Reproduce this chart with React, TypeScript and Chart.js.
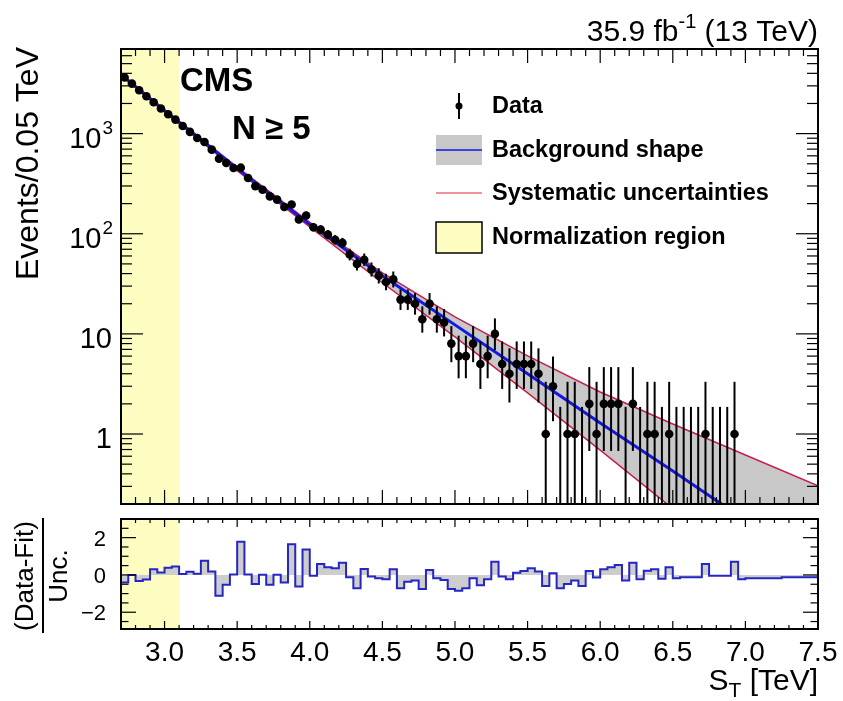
import React, { useEffect, useRef } from 'react';
import { Chart, registerables } from 'chart.js';

Chart.register(...registerables);

const FONT_FAMILY = '"Liberation Sans", Arial, Helvetica, sans-serif';
const font = (size: number, bold = false) => `${bold ? 'bold ' : ''}${size}px ${FONT_FAMILY}`;

// ---------- axis ranges ----------
const X_MIN = 2.7;
const X_MAX = 7.5;
const BIN_WIDTH = 0.05;
const Y_MIN = 0.2;
const Y_MAX = 7000;
const PULL_MIN = -2.9;
const PULL_MAX = 3;
const NORM_LOW = 2.7;
const NORM_HIGH = 3.1;

// ---------- data (events per 0.05 TeV bin, starting at 2.70 TeV) ----------
const dataCounts = [
  3630, 3160, 2710, 2360, 2060, 1780, 1560, 1380, 1190, 1040,
  904, 824, 692, 562, 508, 453, 457, 360, 299, 275,
  236, 219, 185, 196, 139, 152, 116, 110, 98, 87,
  81, 62, 50, 55, 44, 38, 33, 35, 22, 22,
  20, 14, 20, 14, 13, 8, 6, 6, 8, 5,
  6, 10, 5, 4, 5, 5, 5, 4, 1, 3,
  0, 1, 1, 0, 2, 1, 2, 2, 2, 0,
  2, 0, 1, 1, 0, 1, 0, 0, 0, 0,
  1, 0, 0, 0, 1,
];

// ---------- background fit shape and systematic envelope ----------
const fitX = [2.7, 3.0, 3.5, 4.0, 4.5, 5.0, 5.5, 6.0, 6.5, 7.0, 7.5];
const fitCentral = [3890, 1700, 447, 124, 38, 12.3, 4.0, 1.29, 0.427, 0.138, 0.045];
const fitUp = [3980, 1740, 462, 130, 40.7, 14.8, 6.03, 2.63, 1.26, 0.617, 0.304];
const fitDown = [3800, 1640, 427, 117, 32.4, 9.33, 2.57, 0.69, 0.18, 0.048, 0.0126];

// ---------- (Data-Fit)/Unc. per bin (96 bins, 2.70 - 7.50 TeV) ----------
const pulls = [
  -0.40, 0.00, -0.32, -0.24, 0.30, 0.13, 0.38, 0.45, 0.05, 0.17,
  0.06, 0.76, 0.18, -1.12, -0.53, 0.02, 1.78, 0.02, -0.48, 0.01,
  -0.53, 0.01, -0.41, 1.65, -0.62, 1.37, -0.05, 0.59, 0.41, 0.36,
  0.66, -0.12, -0.71, 0.32, -0.09, -0.18, -0.23, 0.30, -0.71, -0.36,
  -0.30, -0.76, 0.27, -0.18, -0.27, -0.76, -0.85, -0.71, -0.18, -0.56,
  -0.23, 0.71, -0.09, -0.23, 0.12, 0.21, 0.36, 0.18, -0.59, 0.09,
  -0.71, -0.48, -0.30, -0.59, 0.21, -0.14, 0.30, 0.41, 0.53, -0.30,
  0.66, -0.23, 0.23, 0.30, -0.21, 0.41, -0.18, -0.12, -0.12, -0.12,
  0.59, -0.05, -0.05, -0.05, 0.71, -0.23, -0.18, -0.18, -0.18, -0.18,
  -0.18, -0.12, -0.12, -0.12, -0.12, -0.12,
];

// ---------- tick labels ----------
const xTickValues = [3.0, 3.5, 4.0, 4.5, 5.0, 5.5, 6.0, 6.5, 7.0, 7.5];
const xTickLabels = ['3.0', '3.5', '4.0', '4.5', '5.0', '5.5', '6.0', '6.5', '7.0', '7.5'];
const yMainTickValues = [1, 10, 100, 1000];
const yMainTickBase = ['1', '10', '10', '10'];
const yMainTickExp = ['', '', '2', '3'];
const pullTickValues = [2, 0, -2];
const pullTickLabels = ['2', '0', '\u22122'];

const legendLabels = ['Data', 'Background shape', 'Systematic uncertainties', 'Normalization region'];

const COLORS = {
  yellow: '#fdfdc2',
  band: '#c8c8c8',
  fit: '#1218e6',
  syst: '#c8204a',
  systLegend: '#ec6f7c',
  pull: '#2626c2',
  pullFill: '#cdcdcd',
};

function line(ctx: CanvasRenderingContext2D, x1: number, y1: number, x2: number, y2: number) {
  ctx.beginPath();
  ctx.moveTo(x1, y1);
  ctx.lineTo(x2, y2);
  ctx.stroke();
}

function drawXTicks(chart: any, majorLen: number, minorLen: number) {
  const { ctx, chartArea: a, scales } = chart;
  const x = scales.x;
  ctx.save();
  ctx.strokeStyle = '#000';
  ctx.lineWidth = 1.2;
  for (let t = Math.round(X_MIN * 10); t <= Math.round(X_MAX * 10); t++) {
    const v = t / 10;
    const px = x.getPixelForValue(v);
    const len = t % 5 === 0 ? majorLen : minorLen;
    line(ctx, px, a.bottom, px, a.bottom - len);
    line(ctx, px, a.top, px, a.top + len);
  }
  ctx.restore();
}

function drawYTicks(chart: any, ticks: { v: number; major: boolean }[], majorLen: number, minorLen: number) {
  const { ctx, chartArea: a, scales } = chart;
  const y = scales.y;
  ctx.save();
  ctx.strokeStyle = '#000';
  ctx.lineWidth = 1.2;
  ticks.forEach(({ v, major }) => {
    const py = y.getPixelForValue(v);
    if (py < a.top - 0.5 || py > a.bottom + 0.5) return;
    const len = major ? majorLen : minorLen;
    line(ctx, a.left, py, a.left + len, py);
    line(ctx, a.right, py, a.right - len, py);
  });
  ctx.restore();
}

function drawFrame(chart: any) {
  const { ctx, chartArea: a } = chart;
  ctx.save();
  ctx.strokeStyle = '#000';
  ctx.lineWidth = 2;
  ctx.strokeRect(a.left, a.top, a.right - a.left, a.bottom - a.top);
  ctx.restore();
}

function drawNormRegion(chart: any) {
  const { ctx, chartArea: a, scales } = chart;
  const x1 = scales.x.getPixelForValue(NORM_LOW);
  const x2 = scales.x.getPixelForValue(NORM_HIGH);
  ctx.save();
  ctx.fillStyle = COLORS.yellow;
  ctx.fillRect(x1, a.top, x2 - x1, a.bottom - a.top);
  ctx.restore();
}

const mainPlugin = {
  id: 'mainDecor',
  beforeDraw(chart: any) {
    drawNormRegion(chart);
  },
  afterDatasetsDraw(chart: any) {
    const { ctx, chartArea: a, scales } = chart;
    const x = scales.x;
    const y = scales.y;
    ctx.save();
    ctx.beginPath();
    ctx.rect(a.left, a.top, a.right - a.left, a.bottom - a.top);
    ctx.clip();
    ctx.strokeStyle = '#000';
    ctx.lineWidth = 2;
    dataCounts.forEach((n, i) => {
      const px = x.getPixelForValue(X_MIN + (i + 0.5) * BIN_WIDTH);
      const hi = n + 1 + Math.sqrt(n + 0.75);
      const lo = n > 0 ? n - Math.sqrt(n - 0.25) : 0;
      const pyHi = y.getPixelForValue(hi);
      const pyLo = lo > Y_MIN ? y.getPixelForValue(lo) : a.bottom + 4;
      line(ctx, px, pyLo, px, pyHi);
    });
    ctx.restore();
  },
  afterDraw(chart: any) {
    const { ctx, chartArea: a, scales } = chart;
    drawXTicks(chart, 14, 7);
    const yt: { v: number; major: boolean }[] = [];
    for (let e = -1; e <= 4; e++) {
      for (let m = 1; m <= 9; m++) yt.push({ v: m * Math.pow(10, e), major: m === 1 });
    }
    drawYTicks(chart, yt, 22, 11);
    drawFrame(chart);

    ctx.save();
    ctx.fillStyle = '#000';
    ctx.textBaseline = 'alphabetic';
    // y tick labels
    yMainTickValues.forEach((v, i) => {
      const py = scales.y.getPixelForValue(v);
      const size = 29;
      ctx.font = font(size);
      const wb = ctx.measureText(yMainTickBase[i]).width;
      ctx.font = font(19);
      const we = yMainTickExp[i] ? ctx.measureText(yMainTickExp[i]).width : 0;
      const start = 112 - wb - we;
      ctx.textAlign = 'left';
      ctx.font = font(size);
      ctx.fillText(yMainTickBase[i], start, py + 14);
      if (yMainTickExp[i]) {
        ctx.font = font(19);
        ctx.fillText(yMainTickExp[i], start + wb + 1, py);
      }
    });

    // y title
    ctx.save();
    ctx.translate(29, 47);
    ctx.rotate(-Math.PI / 2);
    ctx.font = font(32);
    ctx.textAlign = 'right';
    ctx.textBaseline = 'middle';
    ctx.fillText('Events/0.05 TeV', 0, 0);
    ctx.restore();

    // lumi text
    ctx.textAlign = 'left';
    ctx.font = font(30);
    const t1 = '35.9 fb';
    const t3 = ' (13 TeV)';
    const w1 = ctx.measureText(t1).width;
    const w3 = ctx.measureText(t3).width;
    ctx.font = font(20);
    const t2 = '-1';
    const w2 = ctx.measureText(t2).width;
    const sx = a.right - (w1 + w2 + w3);
    ctx.font = font(30);
    ctx.fillText(t1, sx, 41);
    ctx.font = font(20);
    ctx.fillText(t2, sx + w1, 28);
    ctx.font = font(30);
    ctx.fillText(t3, sx + w1 + w2, 41);

    // CMS + N >= 5
    ctx.font = font(33, true);
    ctx.fillText('CMS', 180, 91);
    ctx.fillText('N \u2265 5', 232, 139);

    // legend
    const lx = 436;
    const lw = 46;
    const tx = 492;
    ctx.font = font(23.5, true);
    ctx.textBaseline = 'middle';
    // Data
    ctx.strokeStyle = '#000';
    ctx.lineWidth = 2;
    line(ctx, 459, 93, 459, 119);
    ctx.beginPath();
    ctx.arc(459, 106, 3.5, 0, Math.PI * 2);
    ctx.fill();
    ctx.fillText(legendLabels[0], tx, 107);
    // Background shape
    ctx.fillStyle = COLORS.band;
    ctx.fillRect(lx, 135, lw, 30);
    ctx.strokeStyle = COLORS.fit;
    ctx.lineWidth = 1.5;
    line(ctx, lx, 150, lx + lw, 150);
    ctx.fillStyle = '#000';
    ctx.fillText(legendLabels[1], tx, 151);
    // Systematic uncertainties
    ctx.strokeStyle = COLORS.systLegend;
    ctx.lineWidth = 1.5;
    line(ctx, lx, 193, lx + lw, 193);
    ctx.fillText(legendLabels[2], tx, 194);
    // Normalization region
    ctx.fillStyle = COLORS.yellow;
    ctx.fillRect(lx, 222, lw, 31);
    ctx.strokeStyle = '#000';
    ctx.lineWidth = 1.5;
    ctx.strokeRect(lx, 222, lw, 31);
    ctx.fillStyle = '#000';
    ctx.fillText(legendLabels[3], tx, 238);
    ctx.restore();
  },
};

const pullPlugin = {
  id: 'pullDecor',
  beforeDraw(chart: any) {
    drawNormRegion(chart);
  },
  afterDraw(chart: any) {
    const { ctx, chartArea: a, scales } = chart;
    drawXTicks(chart, 8, 4);
    const yt: { v: number; major: boolean }[] = [];
    for (let k = -5; k <= 5; k++) yt.push({ v: k * 0.5, major: k % 4 === 0 });
    drawYTicks(chart, yt, 15, 7.5);
    drawFrame(chart);

    ctx.save();
    ctx.fillStyle = '#000';
    // y tick labels
    ctx.font = font(22);
    ctx.textAlign = 'right';
    ctx.textBaseline = 'alphabetic';
    pullTickValues.forEach((v, i) => {
      const py = scales.y.getPixelForValue(v);
      ctx.fillText(pullTickLabels[i], 106, py + 8);
    });
    // x tick labels
    ctx.font = font(28);
    ctx.textAlign = 'center';
    xTickValues.forEach((v, i) => {
      const px = scales.x.getPixelForValue(v);
      ctx.fillText(xTickLabels[i], px, a.bottom + 32);
    });
    // x title S_T [TeV]
    ctx.textAlign = 'left';
    ctx.font = font(30);
    const wS = ctx.measureText('S').width;
    const wRest = ctx.measureText(' [TeV]').width;
    ctx.font = font(21);
    const wT = ctx.measureText('T').width;
    const sx = a.right - (wS + wT + wRest);
    ctx.font = font(30);
    ctx.fillText('S', sx, 178);
    ctx.font = font(21);
    ctx.fillText('T', sx + wS, 185);
    ctx.font = font(30);
    ctx.fillText(' [TeV]', sx + wS + wT, 178);

    // y title as fraction
    const cy = 64;
    ctx.save();
    ctx.translate(26, cy);
    ctx.rotate(-Math.PI / 2);
    ctx.font = font(26);
    ctx.textAlign = 'center';
    ctx.textBaseline = 'middle';
    ctx.fillText('(Data-Fit)', 0, 0);
    ctx.restore();
    ctx.save();
    ctx.translate(60, cy);
    ctx.rotate(-Math.PI / 2);
    ctx.font = font(26);
    ctx.textAlign = 'center';
    ctx.textBaseline = 'middle';
    ctx.fillText('Unc.', 0, 0);
    ctx.restore();
    ctx.strokeStyle = '#000';
    ctx.lineWidth = 2;
    line(ctx, 43, 6, 43, 121);
    ctx.restore();
  },
};

export default function App() {
  const mainRef = useRef<HTMLCanvasElement>(null);
  const pullRef = useRef<HTMLCanvasElement>(null);

  useEffect(() => {
    if (!mainRef.current || !pullRef.current) return;

    const points = dataCounts
      .map((n, i) => (n > 0 ? { x: X_MIN + (i + 0.5) * BIN_WIDTH, y: n } : null))
      .filter((p) => p !== null);

    const mainChart = new Chart(mainRef.current, {
      type: 'line',
      data: {
        datasets: [
          {
            label: 'Data',
            data: points as any,
            showLine: false,
            pointRadius: 4.3,
            pointBackgroundColor: '#000',
            pointBorderColor: '#000',
            pointBorderWidth: 0,
            order: 0,
          },
          {
            label: 'Background shape',
            data: fitX.map((x, i) => ({ x, y: fitCentral[i] })),
            borderColor: COLORS.fit,
            borderWidth: 3,
            pointRadius: 0,
            fill: false,
            order: 1,
          },
          {
            label: 'Systematic up',
            data: fitX.map((x, i) => ({ x, y: fitUp[i] })),
            borderColor: COLORS.syst,
            borderWidth: 1.5,
            pointRadius: 0,
            fill: '+1',
            backgroundColor: COLORS.band,
            order: 2,
          },
          {
            label: 'Systematic down',
            data: fitX.map((x, i) => ({ x, y: fitDown[i] })),
            borderColor: COLORS.syst,
            borderWidth: 1.5,
            pointRadius: 0,
            fill: false,
            order: 3,
          },
        ],
      },
      options: {
        responsive: false,
        animation: false,
        events: [],
        layout: { padding: { left: 121, right: 25, top: 49, bottom: 8 } },
        scales: {
          x: { type: 'linear', min: X_MIN, max: X_MAX, display: false },
          y: { type: 'logarithmic', min: Y_MIN, max: Y_MAX, display: false },
        },
        plugins: {
          legend: { display: false },
          tooltip: { enabled: false },
          filler: { drawTime: 'beforeDatasetsDraw' },
        } as any,
      },
      plugins: [mainPlugin],
    });

    const pullData = pulls.map((v, i) => ({ x: X_MIN + i * BIN_WIDTH, y: v }));
    pullData.push({ x: X_MAX, y: pulls[pulls.length - 1] });

    const pullChart = new Chart(pullRef.current, {
      type: 'line',
      data: {
        datasets: [
          {
            label: '(Data-Fit)/Unc.',
            data: pullData,
            stepped: true,
            borderColor: COLORS.pull,
            borderWidth: 2,
            pointRadius: 0,
            fill: 'origin',
            backgroundColor: COLORS.pullFill,
          },
        ],
      },
      options: {
        responsive: false,
        animation: false,
        events: [],
        layout: { padding: { left: 121, right: 25, top: 7, bottom: 72 } },
        scales: {
          x: { type: 'linear', min: X_MIN, max: X_MAX, display: false },
          y: { type: 'linear', min: PULL_MIN, max: PULL_MAX, display: false },
        },
        plugins: {
          legend: { display: false },
          tooltip: { enabled: false },
        },
      },
      plugins: [pullPlugin],
    });

    return () => {
      mainChart.destroy();
      pullChart.destroy();
    };
  }, []);

  return (
    <div style={{ position: 'absolute', left: 0, top: 0, width: 843, height: 701, background: '#fff' }}>
      <canvas
        ref={mainRef}
        width={843}
        height={512}
        style={{ position: 'absolute', left: 0, top: 0, width: 843, height: 512 }}
      />
      <canvas
        ref={pullRef}
        width={843}
        height={189}
        style={{ position: 'absolute', left: 0, top: 512, width: 843, height: 189 }}
      />
    </div>
  );
}
